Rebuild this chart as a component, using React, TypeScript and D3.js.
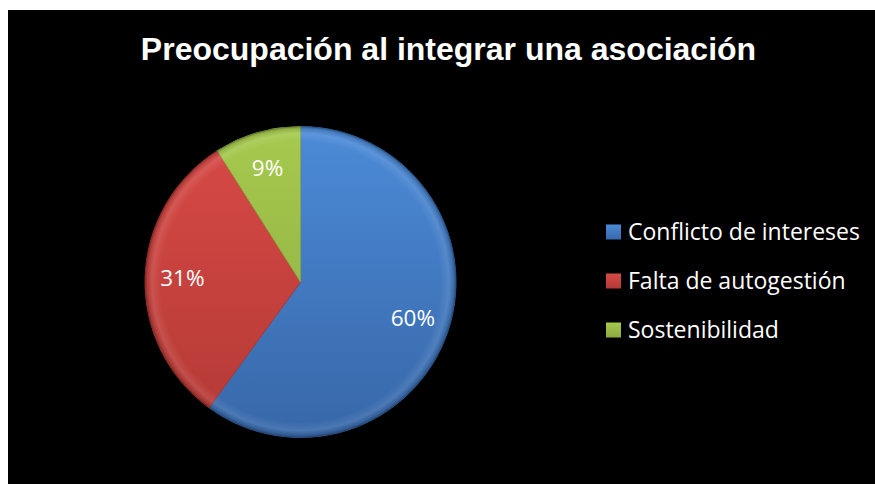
import React from "react";
import * as d3 from "d3";

const categories = ["Conflicto de intereses", "Falta de autogestión", "Sostenibilidad"];
const values = [60, 31, 9];
const labels = ["60%", "31%", "9%"];
const title = "Preocupación al integrar una asociación";

const colorsTop = ["#4C8BD8", "#D84A46", "#A6C94E"];
const colorsBottom = ["#3767A8", "#B33935", "#8BAB40"];

export default function App() {
  const W = 875, H = 484;
  const cx = 300.5, cy = 282, r = 155.5;
  const pie = d3.pie<number>().sort(null).value((d) => d);
  const arcs = pie(values);
  const arc = d3.arc<d3.PieArcDatum<number>>().innerRadius(0).outerRadius(r);
  const labelArc = d3.arc<d3.PieArcDatum<number>>().innerRadius(r * 0.76).outerRadius(r * 0.76);
  const legendY = d3.scalePoint<string>().domain(categories).range([232, 330]);

  return (
    <svg width={W} height={H} style={{ position: "absolute", left: 0, top: 0, display: "block" }}>
      <defs>
        {arcs.map((a, i) => (
          <linearGradient key={i} id={`g${i}`} gradientUnits="userSpaceOnUse" x1={0} y1={-r} x2={0} y2={r}>
            <stop offset="0" stopColor={colorsTop[i]} />
            <stop offset="1" stopColor={colorsBottom[i]} />
          </linearGradient>
        ))}
        <radialGradient id="bevel" gradientUnits="userSpaceOnUse" cx={cx} cy={cy} r={r}>
          <stop offset="0.9" stopColor="#fff" stopOpacity={0} />
          <stop offset="0.955" stopColor="#fff" stopOpacity={0.1} />
          <stop offset="0.985" stopColor="#000" stopOpacity={0.1} />
          <stop offset="1" stopColor="#000" stopOpacity={0.35} />
        </radialGradient>
        {categories.map((c, i) => (
          <linearGradient key={c} id={`lg${i}`} x1="0" y1="0" x2="0" y2="1">
            <stop offset="0" stopColor={colorsTop[i]} />
            <stop offset="1" stopColor={colorsBottom[i]} />
          </linearGradient>
        ))}
      </defs>
      <rect x={0} y={0} width={W} height={H} fill="#fff" />
      <rect x={8} y={10} width={W - 8} height={H - 10} fill="#000" />
      <text
        x={448.5}
        y={60}
        textAnchor="middle"
        fill="#fff"
        fontFamily="'Liberation Sans', Arial, sans-serif"
        fontWeight="bold"
        fontSize={32}
      >
        {title}
      </text>
      <g transform={`translate(${cx},${cy})`}>
        {arcs.map((a, i) => (
          <path key={i} d={arc(a) as string} fill={`url(#g${i})`} stroke={colorsBottom[i]} strokeOpacity={0.8} strokeWidth={1} />
        ))}
      </g>
      <circle cx={cx} cy={cy} r={r} fill="url(#bevel)" />
      <g transform={`translate(${cx},${cy})`}>
        {arcs.map((a, i) => {
          const [x, y] = labelArc.centroid(a);
          return (
            <text
              key={i}
              x={x}
              y={y}
              dy="0.35em"
              textAnchor="middle"
              fill="#fff"
              fontFamily="'Open Sans', 'Noto Sans', sans-serif"
              fontSize={22.5}
            >
              {labels[i]}
            </text>
          );
        })}
      </g>
      {categories.map((c, i) => {
        const y = legendY(c) as number;
        return (
          <g key={c}>
            <rect x={606} y={y - 7.5} width={15} height={15} fill={`url(#lg${i})`} />
            <text
              x={628}
              y={y}
              dy="0.36em"
              fill="#fff"
              fontFamily="'Open Sans', 'Noto Sans', sans-serif"
              fontSize={23}
            >
              {c}
            </text>
          </g>
        );
      })}
    </svg>
  );
}
